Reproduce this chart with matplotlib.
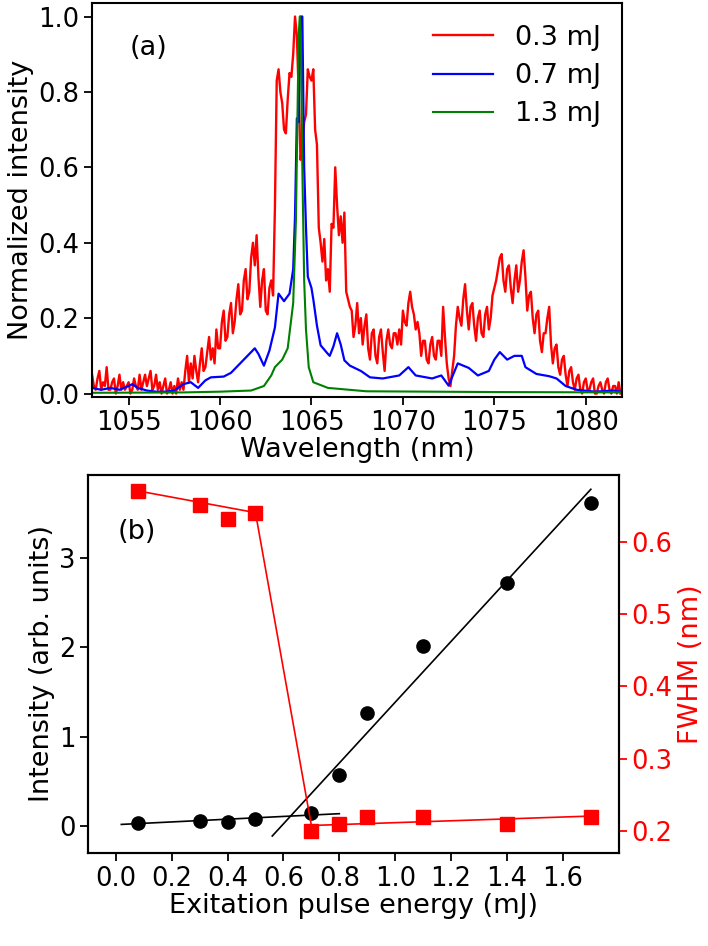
import numpy as np
import matplotlib
matplotlib.use("Agg")
from matplotlib import pyplot as plt

# ---- panel (a): normalized spectra ----
# red (0.3 mJ) sampled every 0.1 nm starting at 1053.0 nm, one row per nm
red_start = 1053.0
red_step = 0.1
red_int = [
    0.05, 0.02, 0.01, 0.04, 0.06, 0.01, 0.03, 0.02, 0.07, 0.01,  # 1053
    0.01, 0.03, 0.04, 0.00, 0.02, 0.05, 0.01, 0.03, 0.01, 0.02,  # 1054
    0.03, 0.00, 0.01, 0.04, 0.02, 0.01, 0.05, 0.01, 0.03, 0.05,  # 1055
    0.02, 0.04, 0.06, 0.01, 0.02, 0.05, 0.01, 0.03, 0.00, 0.02,  # 1056
    0.04, 0.00, 0.01, 0.03, 0.00, 0.02, 0.00, 0.04, 0.01, 0.03,  # 1057
    0.01, 0.06, 0.10, 0.03, 0.08, 0.04, 0.10, 0.06, 0.03, 0.08,  # 1058
    0.12, 0.06, 0.07, 0.11, 0.15, 0.09, 0.12, 0.08, 0.17, 0.12,  # 1059
    0.12, 0.19, 0.22, 0.14, 0.15, 0.21, 0.24, 0.16, 0.19, 0.25,  # 1060
    0.29, 0.21, 0.22, 0.30, 0.33, 0.25, 0.27, 0.36, 0.40, 0.34,  # 1061
    0.42, 0.31, 0.23, 0.30, 0.33, 0.22, 0.21, 0.28, 0.30, 0.26,  # 1062
    0.49, 0.83, 0.86, 0.80, 0.77, 0.70, 0.69, 0.78, 0.85, 0.84,  # 1063
    0.90, 1.00, 0.95, 0.80, 0.62, 0.66, 0.72, 0.74, 0.86, 0.84,  # 1064
    0.83, 0.86, 0.70, 0.66, 0.44, 0.40, 0.35, 0.41, 0.30, 0.33,  # 1065
    0.27, 0.45, 0.44, 0.60, 0.50, 0.42, 0.47, 0.40, 0.48, 0.27,  # 1066
    0.25, 0.23, 0.22, 0.15, 0.18, 0.24, 0.16, 0.20, 0.13, 0.18,  # 1067
    0.21, 0.12, 0.09, 0.16, 0.17, 0.10, 0.08, 0.15, 0.17, 0.11,  # 1068
    0.06, 0.14, 0.17, 0.13, 0.12, 0.16, 0.16, 0.13, 0.17, 0.13,  # 1069
    0.22, 0.19, 0.18, 0.24, 0.27, 0.23, 0.21, 0.17, 0.19, 0.16,  # 1070
    0.10, 0.14, 0.14, 0.09, 0.08, 0.13, 0.15, 0.10, 0.09, 0.14,  # 1071
    0.14, 0.10, 0.23, 0.15, 0.08, 0.04, 0.02, 0.06, 0.10, 0.18,  # 1072
    0.23, 0.20, 0.18, 0.25, 0.29, 0.22, 0.17, 0.23, 0.24, 0.18,  # 1073
    0.14, 0.20, 0.22, 0.16, 0.15, 0.21, 0.23, 0.17, 0.20, 0.26,  # 1074
    0.28, 0.30, 0.33, 0.36, 0.37, 0.30, 0.27, 0.33, 0.34, 0.28,  # 1075
    0.24, 0.30, 0.34, 0.27, 0.30, 0.35, 0.38, 0.31, 0.22, 0.26,  # 1076
    0.27, 0.20, 0.16, 0.21, 0.22, 0.14, 0.11, 0.16, 0.16, 0.20,  # 1077
    0.23, 0.13, 0.08, 0.12, 0.13, 0.07, 0.05, 0.09, 0.10, 0.05,  # 1078
    0.02, 0.06, 0.07, 0.03, 0.01, 0.04, 0.05, 0.01, 0.00, 0.03,  # 1079
    0.04, 0.01, 0.01, 0.03, 0.04, 0.00, 0.00, 0.02, 0.03, 0.01,  # 1080
    0.00, 0.03, 0.04, 0.01, 0.00, 0.02, 0.02, 0.00, 0.03, 0.00,  # 1081
]

blue_wl = [1053.0, 1053.5, 1054.0, 1054.5, 1055.0, 1055.2, 1055.5, 1056.0, 1056.5,
           1057.0, 1057.5, 1058.0, 1058.4, 1058.8, 1059.2, 1059.5, 1060.2, 1060.6,
           1061.1, 1061.5, 1061.9, 1062.1, 1062.4, 1062.7, 1063.0, 1063.2, 1063.5,
           1063.8, 1064.0, 1064.1, 1064.2, 1064.3, 1064.4, 1064.5, 1064.6, 1064.7,
           1064.8, 1065.0, 1065.1, 1065.3, 1065.5, 1065.9, 1066.0, 1066.2, 1066.4,
           1066.6, 1066.8, 1067.1, 1067.7, 1068.2, 1068.9, 1069.8, 1070.3, 1070.7,
           1071.6, 1072.1, 1072.5, 1073.0, 1073.6, 1074.1, 1074.7, 1075.0, 1075.3,
           1075.7, 1076.1, 1076.5, 1076.7, 1077.3, 1078.0, 1078.4, 1078.9, 1079.5,
           1080.5, 1081.5, 1082.0]
blue_int = [0.015, 0.01, 0.015, 0.01, 0.02, 0.025, 0.015, 0.008, 0.005,
            0.005, 0.008, 0.025, 0.03, 0.015, 0.035, 0.043, 0.045, 0.055,
            0.08, 0.10, 0.12, 0.105, 0.074, 0.114, 0.175, 0.265, 0.245,
            0.265, 0.33, 0.47, 0.73, 0.72, 1.0, 1.0, 0.6, 0.44,
            0.31, 0.28, 0.25, 0.18, 0.128, 0.105, 0.10, 0.125, 0.16,
            0.13, 0.088, 0.074, 0.06, 0.043, 0.04, 0.048, 0.07, 0.048,
            0.04, 0.048, 0.021, 0.08, 0.068, 0.048, 0.06, 0.09, 0.11,
            0.09, 0.10, 0.10, 0.07, 0.052, 0.046, 0.04, 0.02, 0.01,
            0.005, 0.008, 0.005]

green_wl = [1053.0, 1058.0, 1060.0, 1061.7, 1062.4, 1062.8, 1063.0, 1063.4, 1063.7,
            1064.0, 1064.15, 1064.22, 1064.3, 1064.36, 1064.42, 1064.5, 1064.6,
            1064.7, 1064.85, 1065.1, 1065.9, 1068.0, 1075.0, 1082.0]
green_int = [0.002, 0.003, 0.005, 0.008, 0.02, 0.048, 0.07, 0.09, 0.12,
             0.24, 0.46, 0.69, 0.95, 1.0, 0.95, 0.6, 0.3,
             0.17, 0.07, 0.03, 0.015, 0.006, 0.004, 0.003]

legend_labels = ["0.3 mJ", "0.7 mJ", "1.3 mJ"]

# ---- panel (b): intensity and FWHM vs excitation energy ----
energy = [0.08, 0.3, 0.4, 0.5, 0.7, 0.8, 0.9, 1.1, 1.4, 1.7]
intensity = [0.04, 0.06, 0.05, 0.08, 0.15, 0.57, 1.27, 2.02, 2.72, 3.62]
fwhm = [0.670, 0.650, 0.631, 0.640, 0.200, 0.210, 0.220, 0.220, 0.210, 0.220]

fit_low_x = [0.02, 0.8]
fit_low_y = [0.02, 0.14]
fit_high_x = [0.56, 1.7]
fit_high_y = [-0.11, 3.77]
fwhm_fit_x = [0.08, 0.5, 0.7, 1.7]
fwhm_fit_y = [0.670, 0.640, 0.208, 0.221]

FS = 19.5
TICK_FS = 18.5
plt.rcParams["font.family"] = "DejaVu Sans"
plt.rcParams["font.size"] = FS
plt.rcParams["xtick.labelsize"] = TICK_FS
plt.rcParams["ytick.labelsize"] = TICK_FS
plt.rcParams["axes.linewidth"] = 1.5
plt.rcParams["xtick.major.width"] = 1.3
plt.rcParams["ytick.major.width"] = 1.3
plt.rcParams["xtick.major.size"] = 5.5
plt.rcParams["ytick.major.size"] = 5.5

fig = plt.figure(figsize=(7.08, 9.46), dpi=100)
ax1 = fig.add_axes([0.130, 0.580, 0.749, 0.4165])
ax2 = fig.add_axes([0.124, 0.0983, 0.750, 0.3996])

red_wl = red_start + red_step * np.arange(len(red_int))
ax1.plot(red_wl, red_int, color="red", lw=1.7, label=legend_labels[0])
ax1.plot(blue_wl, blue_int, color="blue", lw=1.6, label=legend_labels[1])
ax1.plot(green_wl, green_int, color="green", lw=1.5, label=legend_labels[2])
ax1.set_xlim(1053, 1082)
ax1.set_ylim(-0.01, 1.035)
ax1.set_xticks([1055, 1060, 1065, 1070, 1075, 1080])
ax1.set_yticks([0.0, 0.2, 0.4, 0.6, 0.8, 1.0])
ax1.set_xlabel("Wavelength (nm)", labelpad=1)
ax1.set_ylabel("Normalized intensity", labelpad=3)
ax1.text(0.07, 0.87, "(a)", transform=ax1.transAxes, fontsize=FS)
ax1.legend(loc="upper right", frameon=False, fontsize=FS,
           borderaxespad=0.4, handlelength=2.2, labelspacing=0.45)

# bottom panel
ax2.plot(fit_low_x, fit_low_y, color="black", lw=1.2)
ax2.plot(fit_high_x, fit_high_y, color="black", lw=1.2)
ax2.plot(energy, intensity, "o", color="black", ms=9.5)
ax2.set_xlim(-0.1, 1.8)
ax2.set_ylim(-0.3, 3.93)
ax2.set_xticks(np.arange(0, 1.61, 0.2))
ax2.set_yticks([0, 1, 2, 3])
ax2.set_xlabel("Exitation pulse energy (mJ)", labelpad=1)
ax2.set_ylabel("Intensity (arb. units)", labelpad=3)
ax2.text(0.056, 0.83, "(b)", transform=ax2.transAxes, fontsize=FS)

ax3 = ax2.twinx()
ax3.plot(fwhm_fit_x, fwhm_fit_y, color="red", lw=1.2)
ax3.plot(energy, fwhm, "s", color="red", ms=9.5)
ax3.set_ylim(0.17, 0.692)
ax3.set_yticks([0.2, 0.3, 0.4, 0.5, 0.6])
ax3.set_ylabel("FWHM (nm)", color="red")
ax3.tick_params(axis="y", colors="red")

fig.savefig("out.png", dpi=100)
